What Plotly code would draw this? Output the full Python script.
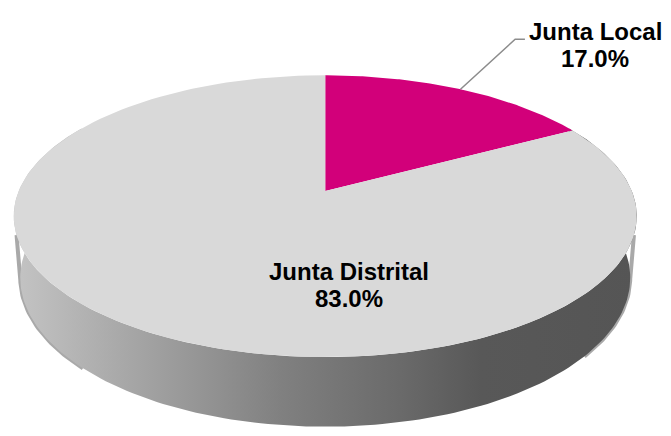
import numpy as np
import plotly.graph_objects as go

# datos
etiquetas = ["Junta Local", "Junta Distrital"]
valores = [17.0, 83.0]
colores = ["#D2007A", "#D9D9D9"]

# camara para el pastel 3D (perspectiva tipo Excel)
elev = np.radians(26.8)
dist = 5.0
foco = 1570
grosor = 0.23


def proyectar(phi, z=0.0):
    X = np.sin(phi)
    Y = np.cos(phi)
    w = dist + Y * np.cos(elev) - z * np.sin(elev)
    return foco * X / w, foco * (Y * np.sin(elev) + z * np.cos(elev)) / w


fig = go.Figure()

# sombra suave en los bordes del costado
for a0, a1 in [(262, 225), (98, 130)]:
    borde = np.radians(np.linspace(a0, a1, 40))
    x0, y0 = proyectar(np.radians(a0), -0.09)
    xs, ys = proyectar(borde, -grosor)
    fig.add_trace(go.Scatter(
        x=np.concatenate([[x0], xs]), y=np.concatenate([[y0], ys]),
        mode="lines", line=dict(color="rgba(40,40,40,0.4)", width=4),
        hoverinfo="skip"))

# pared lateral (frente del cilindro)
t = np.linspace(np.radians(60), np.radians(300), 200)
xa, ya = proyectar(t, 0.0)
xb, yb = proyectar(t[::-1], -grosor)
fig.add_trace(go.Scatter(
    x=np.concatenate([xa, xb]), y=np.concatenate([ya, yb]),
    mode="lines", line=dict(width=0), fill="toself",
    fillgradient=dict(type="horizontal", colorscale=[
        [0, "#c4c4c4"], [0.1, "#b4b4b4"], [0.43, "#808080"],
        [0.62, "#6a6a6a"], [0.75, "#585858"], [1, "#555555"]]),
    hoverinfo="skip"))

# rebanadas de la cara superior
total = sum(valores)
inicio = 0.0
medios = []
for lab, val, col in zip(etiquetas, valores, colores):
    fin = inicio + 2 * np.pi * val / total
    a = np.linspace(inicio, fin, 150)
    xs, ys = proyectar(a)
    fig.add_trace(go.Scatter(
        x=np.concatenate([[0], xs, [0]]), y=np.concatenate([[0], ys, [0]]),
        mode="lines", line=dict(width=0, color=col), fill="toself",
        fillcolor=col, hoverinfo="skip"))
    medios.append((inicio + fin) / 2)
    inicio = fin

fuente = dict(family="Liberation Sans, Arial, sans-serif", size=24, color="#000000")

# linea guia de Junta Local
mx, my = proyectar(medios[0])
fig.add_trace(go.Scatter(
    x=[mx, mx + 56, mx + 66], y=[my, my + 52, my + 52],
    mode="lines", line=dict(color="#8c8c8c", width=1.5), hoverinfo="skip"))


def etiqueta(x, y, nombre, valor):
    fig.add_annotation(x=x, y=y, yshift=13, showarrow=False,
                       text="<b>%s</b>" % nombre, font=fuente)
    fig.add_annotation(x=x, y=y, yshift=-14, showarrow=False,
                       text="<b>%.1f%%</b>" % valor, font=fuente)


etiqueta(mx + 138, my + 46, etiquetas[0], valores[0])
etiqueta(24, -97, etiquetas[1], valores[1])

fig.update_layout(
    margin=dict(l=0, r=0, t=0, b=0),
    paper_bgcolor="white", plot_bgcolor="white",
    showlegend=False,
    xaxis=dict(range=[-325, 346], visible=False, fixedrange=True),
    yaxis=dict(range=[-246, 190], visible=False, fixedrange=True),
)

fig.write_html("out.html")
